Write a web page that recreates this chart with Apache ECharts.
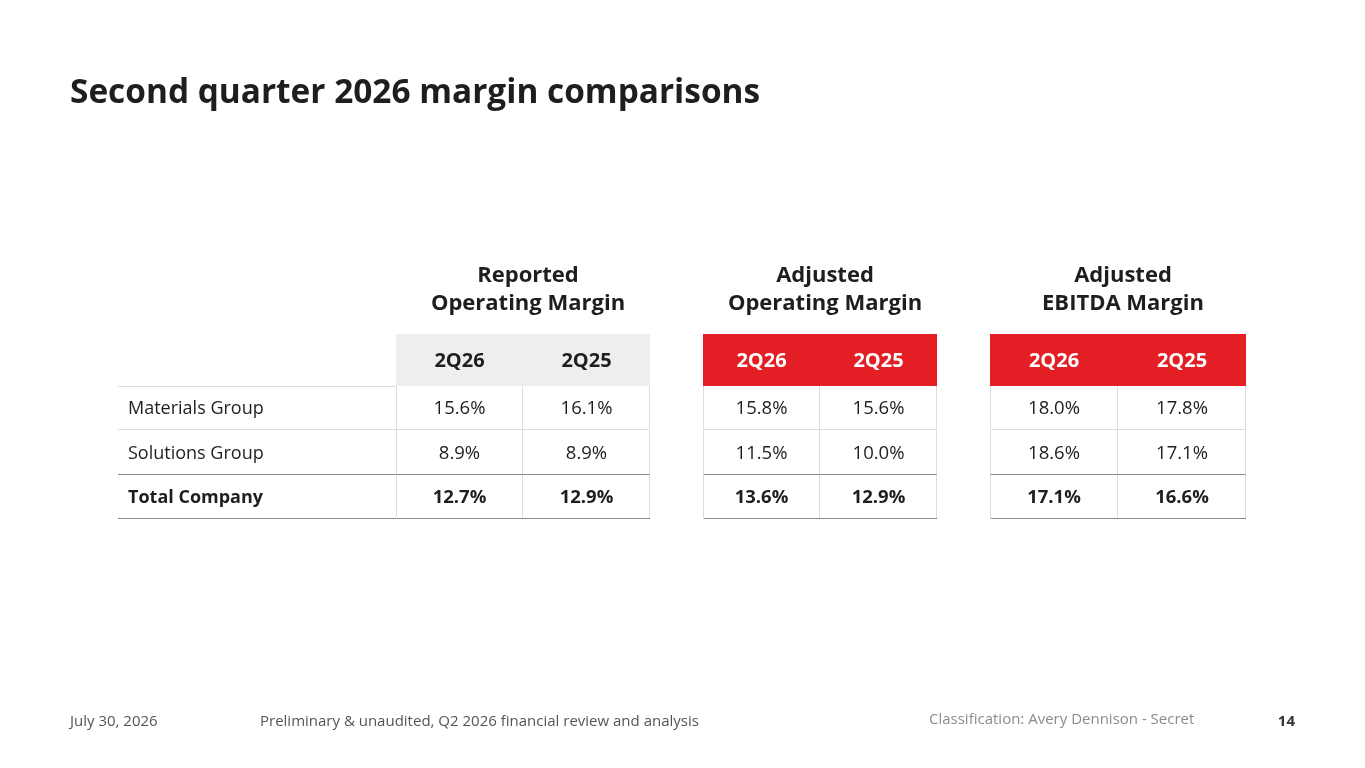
<!DOCTYPE html>
<html><head><meta charset="utf-8">
<script src="https://cdn.jsdelivr.net/npm/echarts@6/dist/echarts.min.js"></script>
<style>html,body{margin:0;padding:0;background:#fff}#c{width:1365px;height:768px}</style>
</head><body><div id="c"></div>
<script>
// ---- data ----
const rowLabels = ['Materials Group', 'Solutions Group', 'Total Company'];
const periods = ['2Q26', '2Q25'];
const reported2Q26 = [15.6, 8.9, 12.7];
const reported2Q25 = [16.1, 8.9, 12.9];
const adjOp2Q26 = [15.8, 11.5, 13.6];
const adjOp2Q25 = [15.6, 10.0, 12.9];
const ebitda2Q26 = [18.0, 18.6, 17.1];
const ebitda2Q25 = [17.8, 17.1, 16.6];
const blockTitles = ['Reported\nOperating Margin', 'Adjusted\nOperating Margin', 'Adjusted\nEBITDA Margin'];
const pageTitle = 'Second quarter 2026 margin comparisons';
const footerDate = 'July 30, 2026';
const footerNote = 'Preliminary & unaudited, Q2 2026 financial review and analysis';
const footerClass = 'Classification: Avery Dennison - Secret';
const pageNumber = '14';

// ---- layout / style ----
const FONT = "'Open Sans', 'Noto Sans', sans-serif";
const TEXT = '#1e1e1e';
const LIGHT = '#dcdcdc';
const DARK = '#8a8a8a';
const RED = '#e31e24';
const HEAD_TOP = 334, HEAD_H = 52, BODY_TOP = 386, BODY_H = 133;
const blocks = [
  {title: blockTitles[0], cols: [reported2Q26, reported2Q25], left: 396, width: 254, fill: '#eeeeee', fg: TEXT, sep: LIGHT},
  {title: blockTitles[1], cols: [adjOp2Q26, adjOp2Q25], left: 703, width: 234, fill: RED, fg: '#ffffff', sep: 'rgba(255,255,255,0.55)'},
  {title: blockTitles[2], cols: [ebitda2Q26, ebitda2Q25], left: 990, width: 256, fill: RED, fg: '#ffffff', sep: 'rgba(255,255,255,0.55)'}
];
const LABEL_LEFT = 118, LABEL_W = 278;

const px = v => Math.round(v) + 0.5;
function hline(x0, x1, y, color) {
  return {type: 'line', shape: {x1: x0, y1: px(y), x2: x1, y2: px(y)}, style: {stroke: color, lineWidth: 1}};
}
function vline(x, y0, y1, color) {
  return {type: 'line', shape: {x1: px(x), y1: y0, x2: px(x), y2: y1}, style: {stroke: color, lineWidth: 1}};
}
function cellBox(api) {
  const c = api.coord([api.value(0), api.value(1)]);
  const s = api.size([1, 1]);
  return {x0: c[0] - s[0] / 2, x1: c[0] + s[0] / 2, y0: c[1] - s[1] / 2, y1: c[1] + s[1] / 2, cx: c[0], cy: c[1]};
}

const grids = [], xAxes = [], yAxes = [], series = [];
function addGrid(left, top, width, height, xcats, ycats) {
  grids.push({left, top, width, height, containLabel: false});
  const i = grids.length - 1;
  xAxes.push({type: 'category', gridIndex: i, data: xcats, show: false});
  yAxes.push({type: 'category', gridIndex: i, data: ycats, inverse: true, show: false});
  return i;
}

// label column
{
  const g = addGrid(LABEL_LEFT, BODY_TOP, LABEL_W, BODY_H, ['label'], rowLabels);
  series.push({
    type: 'custom', xAxisIndex: g, yAxisIndex: g, silent: true,
    data: rowLabels.map((r, i) => [0, i]),
    renderItem: (params, api) => {
      const b = cellBox(api); const r = api.value(1);
      const children = [
        {type: 'text', style: {x: b.x0 + 10, y: b.cy + 1, text: rowLabels[r], fill: TEXT, font: (r === 2 ? 'bold ' : '') + '18px ' + FONT, textAlign: 'left', textVerticalAlign: 'middle'}},
        hline(b.x0, b.x1, b.y1 - 1, r >= 1 ? DARK : LIGHT)
      ];
      if (r === 0) children.push(hline(b.x0, b.x1, b.y0, LIGHT));
      return {type: 'group', children};
    }
  });
}

blocks.forEach((bl) => {
  // header
  const gh = addGrid(bl.left, HEAD_TOP, bl.width, HEAD_H, periods, ['head']);
  series.push({
    type: 'custom', xAxisIndex: gh, yAxisIndex: gh, silent: true,
    data: periods.map((p, i) => [i, 0]),
    renderItem: (params, api) => {
      const b = cellBox(api); const ci = api.value(0);
      const children = [
        {type: 'rect', shape: {x: b.x0, y: b.y0, width: b.x1 - b.x0, height: b.y1 - b.y0}, style: {fill: bl.fill}},
        {type: 'text', style: {x: b.cx, y: b.cy + 1, text: periods[ci], fill: bl.fg, font: 'bold 20px ' + FONT, textAlign: 'center', textVerticalAlign: 'middle'}}
      ];
      if (ci === 0) children.push(vline(b.x1, b.y0, b.y1, bl.sep));
      return {type: 'group', children};
    }
  });
  // body
  const gb = addGrid(bl.left, BODY_TOP, bl.width, BODY_H, periods, rowLabels);
  const data = [];
  bl.cols.forEach((col, ci) => col.forEach((v, ri) => data.push([ci, ri, v])));
  series.push({
    type: 'custom', xAxisIndex: gb, yAxisIndex: gb, silent: true,
    data,
    renderItem: (params, api) => {
      const b = cellBox(api); const ci = api.value(0), ri = api.value(1), v = api.value(2);
      const children = [
        {type: 'text', style: {x: b.cx, y: b.cy + 1, text: v.toFixed(1) + '%', fill: TEXT, font: (ri === 2 ? 'bold ' : '') + '18.5px ' + FONT, textAlign: 'center', textVerticalAlign: 'middle'}},
        vline(b.x1 - 1, b.y0, b.y1, LIGHT),
        hline(b.x0, b.x1, b.y1 - 1, ri >= 1 ? DARK : LIGHT)
      ];
      if (ci === 0) children.push(vline(b.x0, b.y0, b.y1, LIGHT));
      return {type: 'group', children};
    }
  });
});

const titles = [
  {text: pageTitle, left: 65, top: 72, textStyle: {fontFamily: FONT, fontSize: 33.4, fontWeight: 'bold', color: '#1e1e1e'}},
  {text: footerDate, left: 65, top: 709, textStyle: {fontFamily: FONT, fontSize: 15, fontWeight: 'normal', color: '#555555'}},
  {text: footerNote, left: 255, top: 709, textStyle: {fontFamily: FONT, fontSize: 15, fontWeight: 'normal', color: '#555555'}},
  {text: footerClass, left: 924, top: 707, textStyle: {fontFamily: FONT, fontSize: 15, fontWeight: 'normal', color: '#8c8c8c'}},
  {text: pageNumber, right: 65, top: 709, textStyle: {fontFamily: FONT, fontSize: 15, fontWeight: 'bold', color: '#333333'}}
];
blocks.forEach(bl => titles.push({
  text: bl.title, left: bl.left + bl.width / 2, top: 257, textAlign: 'center',
  textStyle: {fontFamily: FONT, fontSize: 22, fontWeight: 'bold', color: '#1e1e1e', lineHeight: 28}
}));

const chart = echarts.init(document.getElementById('c'));
chart.setOption({
  animation: false,
  backgroundColor: '#ffffff',
  title: titles,
  grid: grids, xAxis: xAxes, yAxis: yAxes, series
});
</script></body></html>
